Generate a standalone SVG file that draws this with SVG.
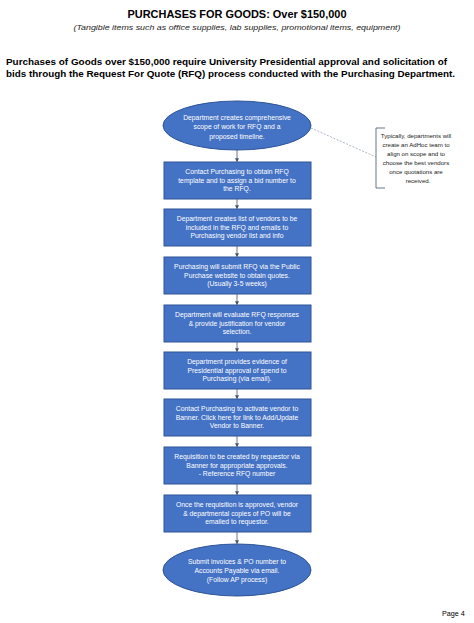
<svg xmlns="http://www.w3.org/2000/svg" width="474" height="623" viewBox="0 0 474 623">
<defs>
<marker id="ah" viewBox="0 0 6 6" refX="5" refY="3" markerWidth="5" markerHeight="5" orient="auto"><path d="M0,0 L6,3 L0,6 z" fill="#44546A"/></marker>
<style>
.t{font-family:"Liberation Sans",Arial,sans-serif;fill:#000}
.h{font-weight:bold;font-size:10.5px}
.s{font-style:italic;font-size:7.6px;fill:#222}
.p{font-weight:bold;font-size:9.8px}
.n{fill:#4472C4;stroke:#2F5597;stroke-width:1}
.w{font-family:"Liberation Sans",Arial,sans-serif;font-size:6.8px;fill:#fff;text-anchor:middle}
.c{font-family:"Liberation Sans",Arial,sans-serif;font-size:6.1px;fill:#222;text-anchor:middle}
.a{stroke:#44546A;stroke-width:0.8;fill:none;marker-end:url(#ah)}
</style>
</defs>
<rect width="474" height="623" fill="#fff"/>
<text class="t h" x="237" y="18" text-anchor="middle" textLength="219" lengthAdjust="spacingAndGlyphs">PURCHASES FOR GOODS:  Over $150,000</text>
<text class="t s" x="237" y="30" text-anchor="middle" textLength="327" lengthAdjust="spacingAndGlyphs">(Tangible items such as office supplies, lab supplies, promotional items, equipment)</text>
<text class="t p" x="6" y="65" textLength="441" lengthAdjust="spacingAndGlyphs">Purchases of Goods over $150,000 require University Presidential approval and solicitation of</text>
<text class="t p" x="6" y="77" textLength="449" lengthAdjust="spacingAndGlyphs">bids through the Request For Quote (RFQ) process conducted with the Purchasing Department.</text>

<g id="connectors">
<line class="a" x1="237" y1="150" x2="237" y2="161.5"/>
<line class="a" x1="237" y1="199" x2="237" y2="208.5"/>
<line class="a" x1="237" y1="246" x2="237" y2="256.5"/>
<line class="a" x1="237" y1="294" x2="237" y2="304.5"/>
<line class="a" x1="237" y1="342" x2="237" y2="351.5"/>
<line class="a" x1="237" y1="389" x2="237" y2="398.5"/>
<line class="a" x1="237" y1="436" x2="237" y2="446.5"/>
<line class="a" x1="237" y1="484" x2="237" y2="494.5"/>
<line class="a" x1="237" y1="532" x2="237" y2="543.5"/>
<line x1="311" y1="128" x2="376" y2="157" stroke="#8497B0" stroke-width="0.7" stroke-dasharray="2,1.5"/>
</g>

<g id="start">
<ellipse class="n" cx="237" cy="125.5" rx="74" ry="24.5"/>
<text class="w" x="237" y="119.5">Department creates comprehensive</text>
<text class="w" x="237" y="129">scope of work for RFQ and a</text>
<text class="w" x="237" y="138.5">proposed timeline.</text>
</g>

<g id="note">
<path d="M385,128 L376,128 L376,188 L385,188" fill="none" stroke="#44546A" stroke-width="0.8"/>
<text class="c" x="416" y="138">Typically, departments will</text>
<text class="c" x="416" y="147">create an AdHoc team to</text>
<text class="c" x="416" y="156">align on scope and to</text>
<text class="c" x="416" y="165">choose the best vendors</text>
<text class="c" x="416" y="174">once quotations are</text>
<text class="c" x="418" y="183">received.</text>
</g>

<g id="step1">
<rect class="n" x="164" y="162" width="147" height="37"/>
<text class="w" x="237" y="174">Contact Purchasing to obtain RFQ</text>
<text class="w" x="237" y="182.7">template and to assign a bid number to</text>
<text class="w" x="237" y="191.4">the RFQ.</text>
</g>
<g id="step2">
<rect class="n" x="164" y="209" width="147" height="37"/>
<text class="w" x="237" y="221">Department creates list of vendors to be</text>
<text class="w" x="237" y="229.7">included in the RFQ and emails to</text>
<text class="w" x="237" y="238.4">Purchasing vendor list and info</text>
</g>
<g id="step3">
<rect class="n" x="164" y="257" width="147" height="37"/>
<text class="w" x="237" y="269">Purchasing will submit RFQ via the Public</text>
<text class="w" x="237" y="277.7">Purchase website to obtain quotes.</text>
<text class="w" x="237" y="286.4">(Usually 3-5 weeks)</text>
</g>
<g id="step4">
<rect class="n" x="164" y="305" width="147" height="37"/>
<text class="w" x="237" y="317">Department will evaluate RFQ responses</text>
<text class="w" x="237" y="325.7">&amp; provide justification for vendor</text>
<text class="w" x="237" y="334.4">selection.</text>
</g>
<g id="step5">
<rect class="n" x="164" y="352" width="147" height="37"/>
<text class="w" x="237" y="364">Department provides evidence of</text>
<text class="w" x="237" y="372.7">Presidential approval of spend to</text>
<text class="w" x="237" y="381.4">Purchasing (via email).</text>
</g>
<g id="step6">
<rect class="n" x="164" y="399" width="147" height="37"/>
<text class="w" x="237" y="411">Contact Purchasing to activate vendor to</text>
<text class="w" x="237" y="419.7">Banner.  Click here for link to Add/Update</text>
<text class="w" x="237" y="428.4">Vendor to Banner.</text>
</g>
<g id="step7">
<rect class="n" x="164" y="447" width="147" height="37"/>
<text class="w" x="237" y="459">Requisition to be created by requestor via</text>
<text class="w" x="237" y="467.7">Banner for appropriate approvals.</text>
<text class="w" x="237" y="476.4">- Reference RFQ number</text>
</g>
<g id="step8">
<rect class="n" x="164" y="495" width="147" height="37"/>
<text class="w" x="237" y="507">Once the requisition is approved, vendor</text>
<text class="w" x="237" y="515.7">&amp; departmental copies of PO will be</text>
<text class="w" x="237" y="524.4">emailed to requestor.</text>
</g>

<g id="end">
<ellipse class="n" cx="237" cy="570" rx="74" ry="26"/>
<text class="w" x="237" y="563.5">Submit invoices &amp; PO number to</text>
<text class="w" x="237" y="572.5">Accounts Payable via email.</text>
<text class="w" x="237" y="581.5">(Follow AP process)</text>
</g>

<text class="t" x="442" y="616" font-size="7.2px">Page 4</text>
</svg>
